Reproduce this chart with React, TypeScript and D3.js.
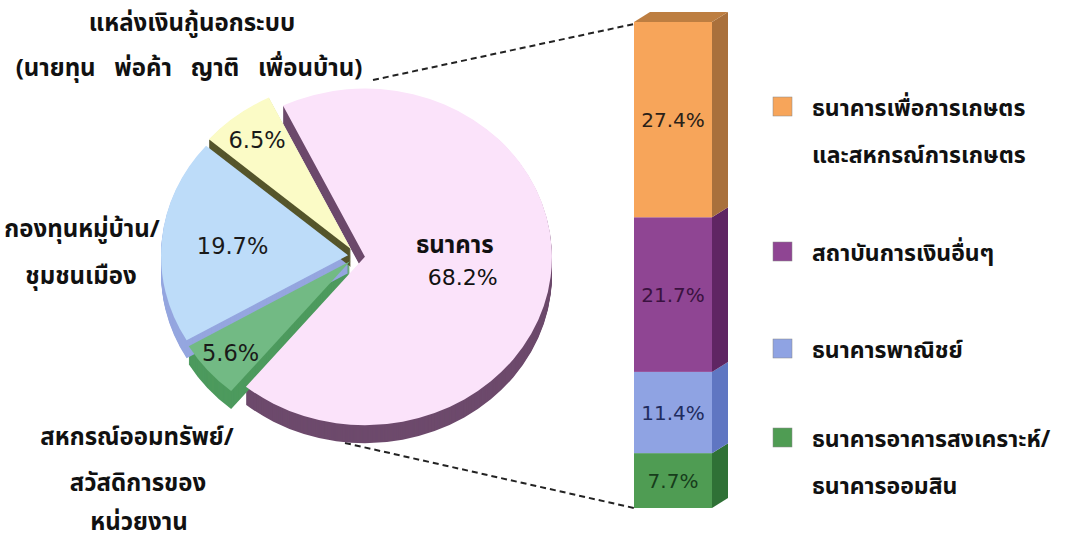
import React from "react";
import * as d3 from "d3";

// ---------- data ----------
const pieCategories = ["ธนาคาร", "สหกรณ์ออมทรัพย์/สวัสดิการของหน่วยงาน", "กองทุนหมู่บ้าน/ชุมชนเมือง", "แหล่งเงินกู้นอกระบบ"];
const pieValues = [68.2, 5.6, 19.7, 6.5];
const pieLabels = ["68.2%", "5.6%", "19.7%", "6.5%"];

const barCategories = ["ธนาคารอาคารสงเคราะห์/ธนาคารออมสิน", "ธนาคารพาณิชย์", "สถาบันการเงินอื่นๆ", "ธนาคารเพื่อการเกษตรและสหกรณ์การเกษตร"];
const barValues = [7.7, 11.4, 21.7, 27.4];
const barLabels = ["7.7%", "11.4%", "21.7%", "27.4%"];

const legendLines = [
  ["ธนาคารเพื่อการเกษตร", "และสหกรณ์การเกษตร"],
  ["สถาบันการเงินอื่นๆ"],
  ["ธนาคารพาณิชย์"],
  ["ธนาคารอาคารสงเคราะห์/", "ธนาคารออมสิน"],
];

// ---------- styles ----------
const pieTop = ["#fbe3fa", "#72ba84", "#bddcf9", "#fbfbc6"];
const pieSide = ["#6d4a6c", "#4d9a5e", "#95a6df", "#55552c"];
const barFront = ["#4f9c53", "#8fa3e3", "#8f4593", "#f7a55a"];
const barSideC = ["#2f7136", "#5f76c2", "#5f2563", "#a9703c"];
const barText = ["#173d1c", "#1f2c5e", "#3a1240", "#2a2118"];
const legendColors = ["#f7a55a", "#8f4593", "#8fa3e3", "#4f9c53"];

const THAI = "'Noto Sans Thai', 'Noto Sans', Tahoma, sans-serif";
const NUM = "'DejaVu Sans', Verdana, sans-serif";
const SP = "\u00a0\u00a0\u00a0";

export default function App() {
  const W = 1070, H = 540;
  const cx = 357, cy = 256;
  const rx = 187, k = 0.9;
  const depth = 18;
  const explode = [8, 9, 9, 10];
  const startA = (-26 * Math.PI) / 180;

  const pie = d3.pie<number>().sort(null).startAngle(startA).endAngle(startA + 2 * Math.PI);
  const arcs = pie(pieValues);
  const arc = d3.arc<d3.PieArcDatum<number>>().innerRadius(0).outerRadius(rx);
  const labelFrac = [0.5, 0.84, 0.62, 0.82];

  const apex = arcs.map((a, i) => {
    const m = (a.startAngle + a.endAngle) / 2;
    return [cx + explode[i] * Math.sin(m), cy - explode[i] * Math.cos(m) * k];
  });

  const layers = d3.range(depth, 0, -1);

  // bar
  const total = d3.sum(barValues);
  const y = d3.scaleLinear().domain([0, total]).range([508, 22]);
  const bx0 = 634, bx1 = 712, ddx = 16, ddy = -10;
  const stack = barValues.map((v, i) => {
    const s = d3.sum(barValues.slice(0, i));
    return { v, i, y0: y(s), y1: y(s + v) };
  });
  const topY = y(total);

  return (
    <svg width={W} height={H} style={{ position: "absolute", left: 0, top: 0, background: "#fff" }}>
      {/* dashed connectors */}
      <line x1={373} y1={80} x2={bx0} y2={topY + 2} stroke="#222" strokeWidth={2} strokeDasharray="6,4" />
      <line x1={345} y1={443} x2={bx0} y2={y(0)} stroke="#222" strokeWidth={2} strokeDasharray="6,4" />

      {/* pie sides */}
      {arcs.map((a, i) =>
        layers.map((t) => (
          <path key={`s${i}-${t}`} d={arc(a) || ""} fill={pieSide[i]}
            transform={`translate(${apex[i][0]},${apex[i][1] + t}) scale(1,${k})`} />
        ))
      )}
      {/* pie tops */}
      {arcs.map((a, i) => (
        <path key={`t${i}`} d={arc(a) || ""} fill={pieTop[i]}
          transform={`translate(${apex[i][0]},${apex[i][1]}) scale(1,${k})`} />
      ))}
      {/* pie value labels */}
      {arcs.map((a, i) => {
        const m = (a.startAngle + a.endAngle) / 2;
        const r = rx * labelFrac[i];
        const lx = apex[i][0] + r * Math.sin(m);
        const ly = apex[i][1] - r * Math.cos(m) * k;
        if (i === 0) {
          return (
            <g key={`l${i}`}>
              <text x={lx - 3} y={ly - 14} textAnchor="middle" fontFamily={THAI} fontWeight="bold" fontSize={24} fill="#111">{pieCategories[0]}</text>
              <text x={lx + 5} y={ly + 18} textAnchor="middle" fontFamily={NUM} fontSize={22} fill="#111">{pieLabels[0]}</text>
            </g>
          );
        }
        return (
          <text key={`l${i}`} x={lx} y={ly} dy="0.35em" textAnchor="middle" fontFamily={NUM} fontSize={22.5} fill="#1a1a1a">{pieLabels[i]}</text>
        );
      })}

      {/* pie category labels */}
      <g fontFamily={THAI} fontWeight="bold" fontSize={24} fill="#111" textAnchor="middle">
        <text x={192} y={31}>แหล่งเงินกู้นอกระบบ</text>
        <text x={189} y={76}>{`(นายทุน${SP}พ่อค้า${SP}ญาติ${SP}เพื่อนบ้าน)`}</text>
        <text x={82} y={237}>กองทุนหมู่บ้าน/</text>
        <text x={81} y={284}>ชุมชนเมือง</text>
        <text x={137} y={445}>สหกรณ์ออมทรัพย์/</text>
        <text x={138} y={491}>สวัสดิการของ</text>
        <text x={139} y={530}>หน่วยงาน</text>
      </g>

      {/* stacked 3D bar */}
      {stack.map((s) => (
        <g key={`b${s.i}`}>
          <polygon
            points={`${bx1},${s.y0} ${bx1 + ddx},${s.y0 + ddy} ${bx1 + ddx},${s.y1 + ddy} ${bx1},${s.y1}`}
            fill={barSideC[s.i]} />
          <rect x={bx0} y={s.y1} width={bx1 - bx0} height={s.y0 - s.y1} fill={barFront[s.i]} />
          <text x={(bx0 + bx1) / 2} y={(s.y0 + s.y1) / 2} dy="0.35em" textAnchor="middle"
            fontFamily={NUM} fontSize={20} fill={barText[s.i]}>{barLabels[s.i]}</text>
        </g>
      ))}
      <polygon
        points={`${bx0},${topY} ${bx0 + ddx},${topY + ddy} ${bx1 + ddx},${topY + ddy} ${bx1},${topY}`}
        fill="#bd7e41" />

      {/* legend */}
      {legendLines.map((lines, i) => {
        const ys = [107, 252, 349, 438];
        return (
          <g key={`lg${i}`}>
            <rect x={773} y={ys[i] - 10} width={19} height={19} fill={legendColors[i]} stroke="#888" strokeWidth={0.5} />
            {lines.map((ln, j) => (
              <text key={j} x={812} y={ys[i] + 9 + j * 47} fontFamily={THAI} fontWeight="bold" fontSize={23} fill="#111">{ln}</text>
            ))}
          </g>
        );
      })}
    </svg>
  );
}
